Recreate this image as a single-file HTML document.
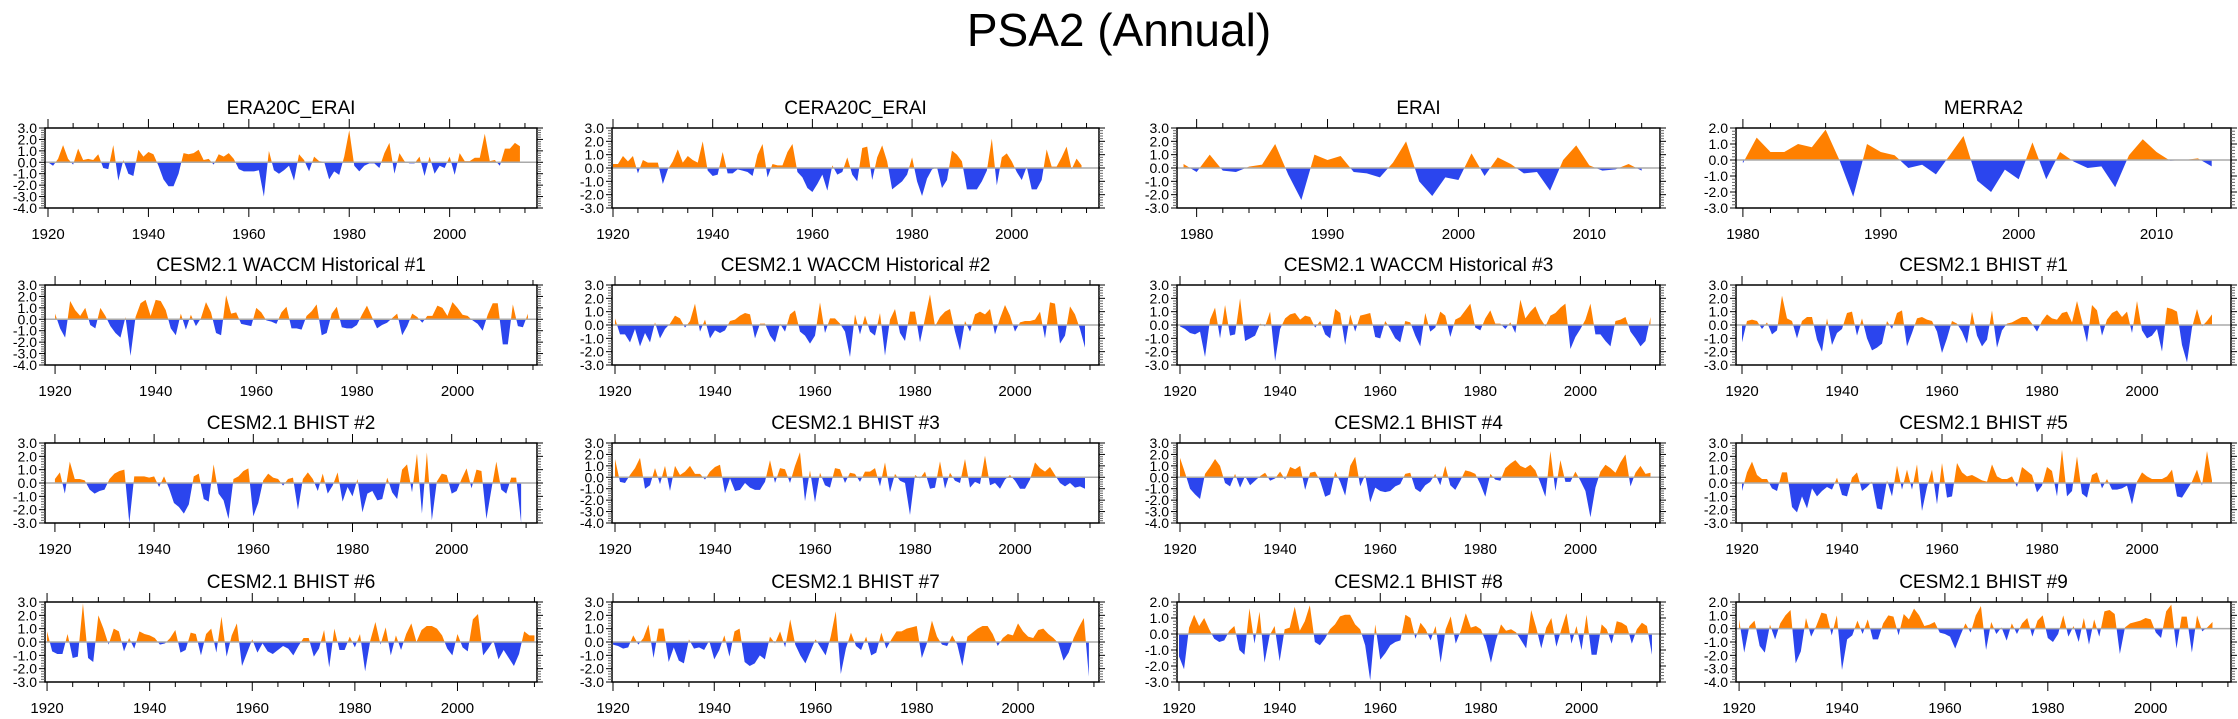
<!DOCTYPE html>
<html><head><meta charset="utf-8"><style>
html,body{margin:0;padding:0;background:#fff;}
svg{display:block;font-family:"Liberation Sans",sans-serif;}
</style></head><body>
<svg id="fig" width="2238" height="719" viewBox="0 0 2238 719" xmlns="http://www.w3.org/2000/svg">
<text x="1119" y="46" text-anchor="middle" font-size="46">PSA2 (Annual)</text>
</svg>
<script>
const titles = ["ERA20C_ERAI","CERA20C_ERAI","ERAI","MERRA2",
"CESM2.1 WACCM Historical #1","CESM2.1 WACCM Historical #2","CESM2.1 WACCM Historical #3","CESM2.1 BHIST #1",
"CESM2.1 BHIST #2","CESM2.1 BHIST #3","CESM2.1 BHIST #4","CESM2.1 BHIST #5",
"CESM2.1 BHIST #6","CESM2.1 BHIST #7","CESM2.1 BHIST #8","CESM2.1 BHIST #9"];
const startYears = [1920,1920,1979,1980, 1920,1920,1920,1920, 1920,1920,1920,1920, 1920,1920,1920,1920];
const yMins = [-4,-3,-3,-3, -4,-3,-3,-3, -3,-4,-4,-3, -3,-3,-3,-4];
const yMaxs = [3,3,3,2, 3,3,3,3, 3,3,3,3, 3,3,2,2];
const xMinYears = [1919.4,1919.8,1978.5,1979.5, 1918,1919.4,1919.4,1918.8, 1918,1919.4,1919.4,1918.8, 1919.6,1919.8,1919.6,1919.4];
const xMaxYears = [2017.4,2017.5,2015.4,2015.4, 2015.8,2016.8,2015.9,2017.8, 2017.2,2016.8,2015.9,2017.8, 2015.5,2016,2015.6,2015.6];

const s0 = [0,-0.3,0.3,1.5,0.3,-0.2,1.2,0.2,0.3,0.2,0.7,-0.5,-0.6,1.5,-1.6,0.2,-1.0,-1.2,1.1,0.5,0.9,0.7,-0.3,-1.5,-2.1,-2.1,-1.0,0.8,0.7,0.8,1.1,0.2,0.3,-0.2,0.7,0.5,0.8,0.3,-0.6,-0.8,-0.8,-0.8,-0.7,-3.0,1.0,-0.7,-1.0,-0.7,-0.3,-1.6,0.7,0.2,-0.8,0.5,0.1,0.05,-1.5,-0.8,-1.1,0.5,2.8,-0.3,-0.8,-0.3,-0.1,-0.1,-0.5,0.8,1.7,-1.0,0.8,0.1,-0.1,-0.1,0.5,-1.2,0.5,-1.0,-0.3,-0.5,0.5,-1.1,0.8,0.1,0.1,0.4,0.4,2.5,0.1,0.2,-0.3,1.2,1.2,1.7,1.4];
const s1 = [0.3,0.3,0.9,0.5,0.9,-0.4,0.6,0.4,0.4,0.4,-1.2,-0.1,0.5,1.4,0.4,0.9,0.6,0.4,2.0,-0.2,-0.6,-0.5,1.2,-0.4,-0.4,-0.1,-0.2,-0.3,-0.6,1.0,1.8,-0.7,0.3,0.2,0.2,1.2,1.8,-0.3,-0.7,-1.5,-1.8,-1.2,-0.5,-1.7,0.2,-0.5,-0.3,0.8,-0.5,-1.0,1.5,1.6,-0.9,0.8,1.7,0.5,-1.6,-1.3,-1.0,-0.5,0.8,-1.0,-2.1,-0.8,-0.1,0.05,-1.5,-0.9,1.3,1.0,0.5,-1.6,-1.6,-1.6,-1.0,-0.2,2.2,-1.3,0.8,1.1,0.5,-0.3,-0.9,0.1,-1.6,-1.6,-0.9,1.4,0.1,0.1,0.8,1.6,-0.1,0.7,0.2];
const s2 = [0.3,-0.3,1.0,-0.2,-0.3,0.1,0.25,1.8,-0.5,-2.4,1.0,0.6,0.9,-0.3,-0.4,-0.7,0.4,2.0,-1.0,-2.1,-0.7,-0.9,1.1,-0.6,0.8,0.3,-0.4,-0.3,-1.7,0.6,1.7,0.2,-0.2,-0.1,0.3,-0.2];
const s3 = [-0.2,1.4,0.5,0.5,1.0,0.8,1.9,0,-2.3,1.0,0.5,0.3,-0.5,-0.3,-0.9,0.3,1.5,-1.3,-2.0,-0.6,-1.2,1.1,-1.2,0.5,-0.1,-0.5,-0.4,-1.7,0.3,1.3,0.5,-0.05,0,0.1,-0.4];
const s4 = [0.5,-0.8,-1.6,1.6,0.8,0.3,1.0,-0.5,-0.8,1.0,0.3,-0.6,-1.2,-1.6,0.2,-3.2,0.2,1.4,1.7,0.3,1.7,1.6,0.8,-0.8,-1.4,0.5,-0.9,0.4,-0.6,0.1,1.5,0.6,-1.2,-1.4,2.1,0.5,0.6,-0.4,-0.5,-0.6,1.0,0.6,-0.1,-0.2,-0.4,0.6,1.1,-0.8,-0.8,-0.9,0.3,0.7,1.3,-1.4,-1.2,0.5,1.1,-0.7,-0.8,-0.8,-0.5,0.4,1.2,0.2,-0.8,-0.5,-0.3,0.1,0.5,-1.4,-0.6,0.5,0.2,-0.3,0.3,0.3,1.2,1.0,0.3,1.5,1.0,0.4,0.3,-0.1,-0.4,-1.0,0.4,1.4,1.4,-2.2,-2.2,1.3,-0.6,-0.7,0.5];
const s5 = [0.5,-0.7,-0.7,-1.3,-0.3,-1.6,-0.6,-1.3,0.2,-1.0,-0.3,0.1,0.7,0.5,-0.2,0.3,1.6,-0.5,0.4,-1.0,-0.4,-0.6,-0.4,0.3,0.4,0.7,0.9,0.8,-1.0,0.1,0.1,-0.8,-1.3,0.1,-0.5,0.8,1.1,-0.5,-0.8,-1.4,-0.8,1.7,-0.6,0.5,0.5,0.1,-0.5,-2.4,0.8,-0.7,0.7,-0.5,-0.8,0.9,-2.3,0.4,1.2,-0.6,-1.2,1.0,1.0,-1.3,0.5,2.3,-0.1,0.6,1.0,1.2,-0.5,-1.9,0.3,-0.5,0.8,1.0,0.8,1.2,-0.7,0.5,1.5,0.7,-0.5,0.2,0.3,0.3,0.4,1.0,-1.0,1.7,1.6,-1.4,-0.8,1.4,0.8,-0.3,-1.7];
const s6 = [-0.1,-0.3,-0.6,-0.7,-0.5,-2.4,0.4,1.3,-1.0,1.5,-0.8,-0.7,2.0,-1.2,-1.0,-0.8,0.1,-0.1,1.0,-2.7,-0.3,0.5,0.8,0.9,0.4,0.7,0.6,-0.2,0.3,-0.7,-1.0,1.2,0.9,-1.5,0.8,-0.5,0.7,0.8,0.9,-0.9,-1.0,0.3,-0.3,-1.0,-1.3,0.3,0.2,-0.8,-1.6,0.9,-0.5,-0.2,1.0,0.7,-0.9,0.4,0.6,1.1,1.6,-0.2,-0.4,0.5,1.1,0.1,0.1,-0.3,0.2,-0.6,1.9,0.5,1.0,1.4,0.5,-0.1,0.7,0.9,1.3,1.6,-1.8,-0.9,-0.3,0.4,1.6,-0.7,-0.7,-1.2,-1.6,0.3,0.4,0.6,-0.5,-1.0,-1.6,-1.2,0.6];
const s7 = [-1.3,0.3,0.4,0.3,-0.3,0.2,-0.7,-0.4,2.2,0.5,0.3,-1.0,0.3,0.6,0.6,-1.1,-2.0,0.5,-1.5,-0.6,-0.3,0.9,1.0,-0.8,0.5,-1.0,-1.9,-1.7,-1.4,0.3,-0.3,0.9,1.1,-1.6,-0.6,0.5,0.6,0.4,0.3,-0.5,-2.1,-1.0,0.3,0.1,-0.5,-1.4,1.0,-0.8,-1.6,-1.1,1.1,-1.7,-0.4,0.1,0.2,0.4,0.6,0.6,0.1,-0.5,0.3,0.8,0.5,0.4,0.9,1.0,0.2,1.8,0.3,-1.3,1.5,1.1,-0.8,0.4,0.9,1.1,0.6,1.0,-0.6,1.8,-0.4,-1.0,-0.8,-0.3,-2.0,1.3,1.2,1.0,-1.5,-2.8,-0.2,1.2,-0.1,0.3,0.8];
const s8 = [0.3,0.8,-0.8,1.6,0.3,0.3,0.2,-0.5,-0.8,-0.6,-0.5,0.3,0.7,0.9,1.0,-3.0,0.5,0.5,0.5,0.4,0.5,-0.3,0.5,-0.4,-1.5,-1.8,-2.3,-1.6,0.5,0.7,-1.2,-1.4,1.4,-0.8,-1.3,-2.7,0.3,0.5,0.9,1.1,-2.5,-1.5,0.2,0.7,0.4,0.3,-0.2,0.3,0.4,-2.0,0.3,0.8,0.3,-0.6,0.7,-0.8,-0.2,0.8,-1.4,-0.3,-1.0,0.3,-2.2,-0.8,-0.6,-1.3,-1.2,0.4,-0.7,-1.2,1.0,1.4,-0.7,2.2,-2.3,2.3,-2.8,0.1,0.7,0.6,-0.8,-0.6,0.3,1.1,-0.4,1.0,0.9,-2.7,-0.5,1.6,-0.5,-0.8,0.4,0.4,-3.0];
const s9 = [1.6,-0.4,-0.5,0.2,0.8,1.7,-1.0,-0.7,0.8,-0.6,1.0,-1.2,1.0,0.2,0.5,1.0,0.3,0.3,-0.2,0.5,0.9,1.1,-1.4,-0.1,-1.2,-1.1,-0.5,-0.9,-1.1,-1.1,-0.4,1.5,-0.5,0.8,0.7,-0.5,1.0,2.2,-2.1,0.6,-2.2,0.4,-0.7,-0.9,0.8,0.7,-0.5,0.4,0.3,-0.4,0.5,0.5,0.8,-0.8,1.3,-1.3,0.3,-0.3,-0.5,-3.3,0.2,-0.1,0.5,-1.0,-0.9,1.4,-1.0,0.4,-0.3,-0.5,1.6,-0.9,-0.4,-0.6,1.9,-0.7,-0.5,-1.0,-0.2,0.2,-0.3,-1.0,-1.0,-0.2,1.3,0.8,0.5,0.9,0.2,-0.5,-0.8,-0.5,-0.9,-0.8,-1.0];
const s10 = [1.7,0.4,-1.0,-1.5,-1.9,0.3,0.9,1.6,1.0,-0.5,-0.8,0.3,-0.9,0.1,-0.7,-0.3,0.1,0.4,-0.3,-0.1,0.5,-0.2,0.9,0.7,1.0,-1.1,0.4,0.5,-0.3,-1.7,-1.5,0.5,-0.4,-1.6,1.0,1.8,-0.8,0.2,-2.2,-0.9,-1.2,-1.3,-1.2,-0.8,-0.6,0.3,0.4,-1.0,-1.3,-0.7,-0.4,0.3,-0.7,1.0,-0.7,-1.1,-0.3,0.6,0.5,0.3,-0.6,-1.7,0.3,-0.2,-0.3,0.8,1.2,1.5,1.0,0.8,1.1,0.6,-0.5,-1.7,2.3,-1.2,1.5,-0.4,-0.4,0.5,-0.3,-1.2,-3.5,-0.9,0.5,1.1,0.8,0.4,1.3,2.0,-0.8,0.4,1.0,0.3,0.4];
const s11 = [-0.6,0.8,1.6,0.6,0.3,0.3,-0.4,-0.6,0.8,0.8,-1.8,-2.2,-1.0,-1.9,-0.4,-1.0,-0.6,-0.3,-0.5,0.4,-0.9,-1.0,0.4,0.8,-0.6,-0.3,0.1,-1.9,-2.0,0.2,-1.0,1.3,-0.5,1.0,-0.5,1.4,-2.1,-0.3,1.0,-1.6,1.5,-1.1,-1.0,1.5,0.8,0.5,0.6,0.4,0.2,0.1,1.4,0.5,0.3,0.3,0.5,-0.3,1.2,0.9,0.6,-0.7,-0.2,1.2,0.9,-1.0,2.5,-1.0,-0.6,2.0,-0.8,-1.1,0.6,0.8,-0.4,0.3,-0.5,-0.5,-0.4,-0.2,-1.6,0.1,0.8,0.5,0.3,0.3,0.3,0.5,1.0,-1.0,-1.1,-0.5,0.1,1.0,-0.2,2.4,0.2];
const s12 = [0.8,-0.7,-0.9,-0.9,0.6,-1.2,-1.1,2.9,-1.2,-1.5,2.0,1.0,-0.2,1.0,0.8,-0.7,0.3,-0.5,0.8,0.6,0.5,0.3,-0.2,-0.1,0.3,0.9,-0.8,-0.6,0.7,0.6,-1.0,0.6,1.0,-0.8,1.9,-1.1,0.5,1.4,-1.8,-0.8,0.2,-0.8,-0.1,-0.7,-0.9,-0.6,-0.3,-0.5,-1.0,-0.3,0.3,0.3,-1.1,-0.5,0.9,-1.9,1.0,-0.6,-0.6,0.4,-0.4,0.6,-2.2,0.1,1.5,-0.2,1.1,-1.0,0.5,-0.6,0.6,1.4,0.0,0.9,1.2,1.2,1.0,0.5,-0.5,-1.0,0.6,-0.4,-0.7,1.7,2.1,-1.0,-0.5,0.1,-1.3,-0.6,-1.2,-1.8,-0.9,0.8,0.5,0.5];
const s13 = [-0.2,-0.3,-0.5,-0.4,0.5,-0.2,0.3,1.3,-1.2,1.0,1.0,-1.5,-0.4,-1.4,-1.6,0.2,-0.5,-0.4,-0.6,0.1,-1.3,-0.6,0.5,-1.1,0.8,1.0,-1.5,-1.8,-1.6,-1.0,-1.3,0.4,-0.1,0.8,-0.4,1.7,-0.2,-1.0,-1.6,-0.7,0.2,-0.4,-1.0,0.4,2.3,-2.4,-0.5,0.7,-0.3,-0.6,0.4,-1.0,-0.8,0.7,-0.5,0.2,0.8,0.8,1.0,1.1,1.2,-1.2,-0.1,1.6,0.4,-0.2,-0.3,0.5,-0.2,-1.8,0.4,0.7,1.0,1.2,1.2,0.6,-0.3,0.3,0.6,0.5,1.4,0.8,0.4,0.3,0.9,1.0,0.6,0.3,-0.1,-1.4,-0.8,0.3,1.1,1.8,-2.6];
const s14 = [-1.4,-2.2,0.4,1.2,0.5,1.0,0.3,-0.3,-0.5,-0.4,0.2,0.5,-1.0,-1.3,1.6,-0.6,1.4,-1.8,-0.1,0.5,-1.7,0.3,0.4,1.7,0.2,0.8,1.8,-0.5,-0.7,-0.3,0.3,0.6,1.1,1.2,1.2,0.6,0.3,-0.7,-2.9,0.6,-1.6,-1.2,-0.7,-0.5,-0.4,1.2,1.0,-0.3,0.7,0.3,-0.4,0.5,-1.8,0.3,1.1,-0.6,0.2,1.3,0.4,0.5,0.3,-0.5,-1.8,-0.4,0.6,0.2,0.3,0.1,-0.4,-0.9,1.5,0.4,-0.9,0.4,1.0,-0.8,0.3,1.3,-0.6,0.5,-1.0,1.2,-1.3,-1.3,0.6,0.3,-0.6,0.8,0.7,0.5,-0.6,0.3,0.7,0.5,-1.3];
const s15 = [0.7,-1.8,0.2,0.6,-1.3,-1.8,0.3,-0.8,0.4,1.0,1.4,-2.6,-1.7,0.8,-0.6,0.2,1.2,1.1,-0.5,1.0,-3.1,-0.8,-0.5,0.6,-0.4,0.7,-0.8,-0.8,0.4,1.0,0.9,-0.5,1.1,0.7,1.5,1.0,0.2,0.3,0.5,-0.3,-0.4,-0.6,-1.5,-0.5,0.4,-0.3,1.0,1.7,-1.6,0.5,-0.4,0.1,-0.9,0.4,-0.4,0.4,0.8,-0.6,0.6,1.0,-0.7,-1.0,-0.4,1.0,-0.6,0.2,-1.0,0.8,-1.2,0.7,-0.6,1.3,1.4,1.1,-1.9,0.1,0.4,0.5,0.6,0.8,0.7,-0.3,-0.7,1.3,1.8,-1.5,0.9,0.9,-1.8,1.0,-0.2,0.1,0.5];
const series = [s0,s1,s2,s3,s4,s5,s6,s7,s8,s9,s10,s11,s12,s13,s14,s15];

const colLefts  = [45,612,1177,1736];
const colRights = [537,1099,1660,2231];
const rowTops = [128,285,443,602];
const PH = 80;
const NS = "http://www.w3.org/2000/svg";
const svg = document.getElementById('fig');
function mk(tag, attrs, parent){const e=document.createElementNS(NS,tag);for(const k in attrs)e.setAttribute(k,attrs[k]);(parent||svg).appendChild(e);return e;}

for(let p=0;p<16;p++){
  const L=colLefts[p%4], R=colRights[p%4], T=rowTops[Math.floor(p/4)], B=T+PH;
  const x0=xMinYears[p], x1=xMaxYears[p], y0=yMins[p], y1=yMaxs[p];
  const xs=v=>L+(v-x0)/(x1-x0)*(R-L);
  const ys=v=>B-(v-y0)/(y1-y0)*(B-T);
  const g=mk('g',{});
  
  
  const t=mk('text',{x:(L+R)/2,y:T-14,'text-anchor':'middle','font-size':19},g);
  
  
  t.textContent=titles[p];
  const d=series[p], sy=startYears[p];
  let path='M'+xs(sy)+','+ys(0);
  d.forEach((v,i)=>{path+=' L'+xs(sy+i).toFixed(2)+','+ys(v).toFixed(2);});
  path+=' L'+xs(sy+d.length-1)+','+ys(0)+' Z';
  const cpA=mk('clipPath',{id:'ca'+p},g); mk('rect',{x:L,y:T,width:R-L,height:ys(0)-T},cpA);
  const cpB=mk('clipPath',{id:'cb'+p},g); mk('rect',{x:L,y:ys(0),width:R-L,height:B-ys(0)},cpB);
  const pa=mk('path',{d:path,fill:'#ff8000','clip-path':'url(#ca'+p+')'},g);
  
  
  const pb=mk('path',{d:path,fill:'#2b45ee','clip-path':'url(#cb'+p+')'},g);
  
  
  const zl=mk('line',{x1:L,x2:R,y1:ys(0),y2:ys(0),stroke:'#aaa','stroke-width':1.5},g);
  
  
  const fr=mk('rect',{x:L,y:T,width:R-L,height:PH,fill:'none',stroke:'#000','stroke-width':1.5},g);
  
  
  const short = sy>1950;
  const maj = short?10:20, mnr = short?2:5;
  for(let yr=Math.ceil(x0/mnr)*mnr; yr<=x1; yr+=mnr){
    const X=xs(yr), isM=yr%maj===0, len=isM?9:5;
    mk('line',{x1:X,x2:X,y1:B,y2:B+len,stroke:'#000','stroke-width':1},g);
    mk('line',{x1:X,x2:X,y1:T,y2:T-len,stroke:'#000','stroke-width':1},g);
    if(isM){const lt=mk('text',{x:X,y:B+31,'text-anchor':'middle','font-size':15},g);
      
      
      lt.textContent=yr;}
  }
  for(let k=Math.round(y0*5);k<=Math.round(y1*5);k++){
    const v=k/5, Y=ys(v), isM=k%5===0, len=isM?6:4;
    mk('line',{x1:L,x2:L-len,y1:Y,y2:Y,stroke:isM?'#000':'#666','stroke-width':1},g);
    mk('line',{x1:R,x2:R+len,y1:Y,y2:Y,stroke:isM?'#000':'#666','stroke-width':1},g);
    if(isM){const lt=mk('text',{x:L-8,y:Y+5,'text-anchor':'end','font-size':14},g);
      
      
      lt.textContent=v.toFixed(1);}
  }
}
</script>
</body></html>
